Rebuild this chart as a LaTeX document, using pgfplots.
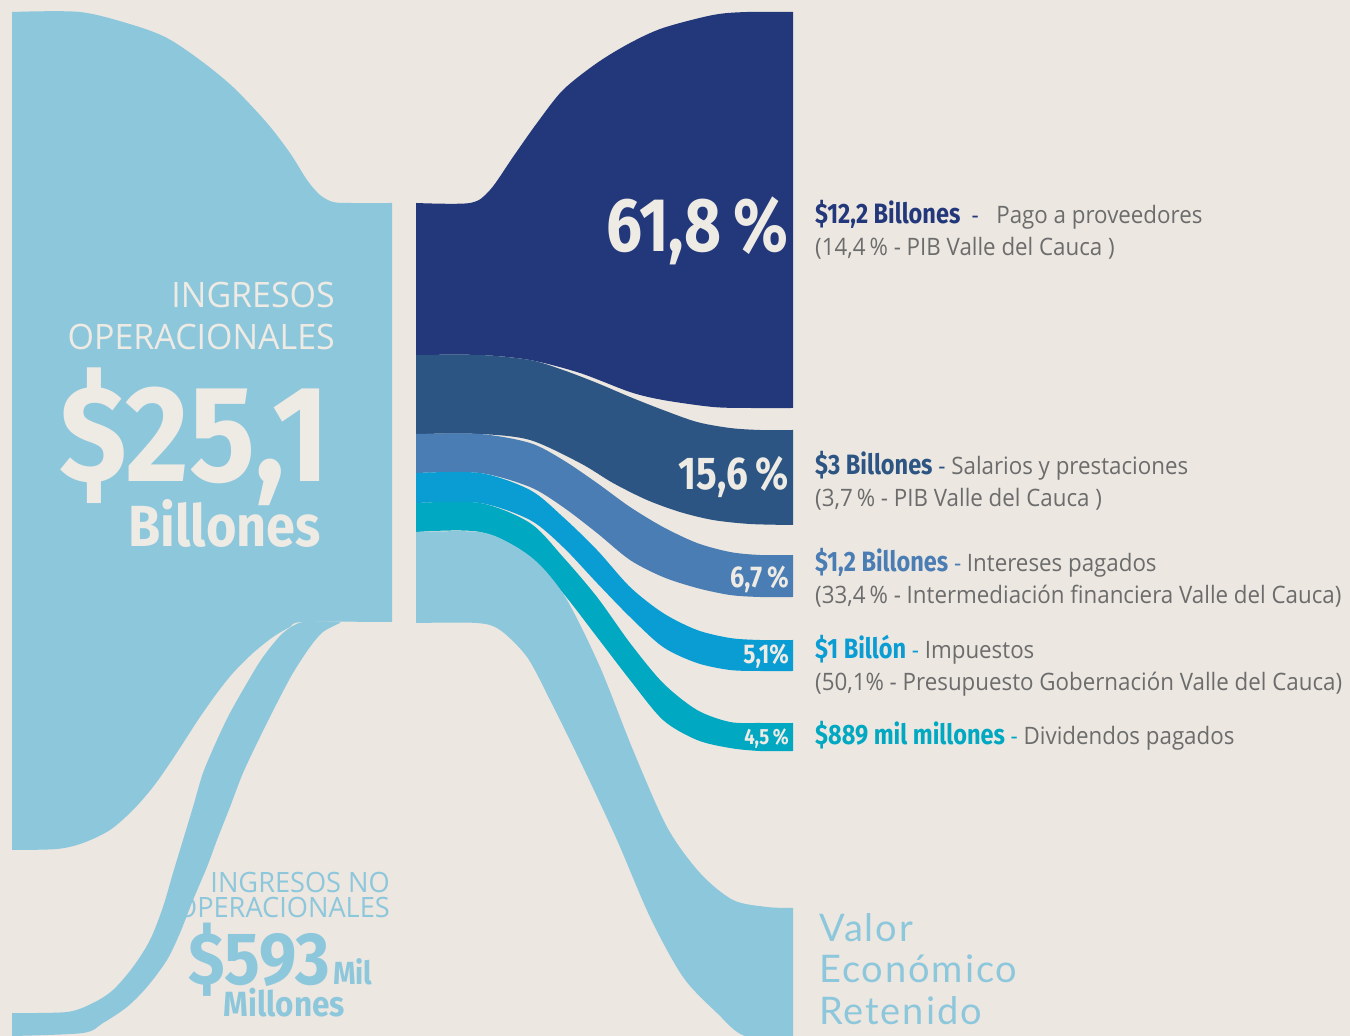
\documentclass[border=0pt]{standalone}
\usepackage{pgfplots}
\pgfplotsset{compat=1.18}
\usepgfplotslibrary{fillbetween}
\usepackage{fontspec}
\setmainfont{Open Sans}
\newfontfamily\txt[FakeStretch=0.93]{Open Sans}
\newfontfamily\caps[FakeStretch=0.97]{Open Sans}
\newfontfamily\fc[FakeStretch=0.84]{Fira Sans}
\newfontfamily\fb[FakeStretch=0.9]{Fira Sans}
\newfontfamily\lat[LetterSpace=5]{Lato}

\definecolor{bg}{HTML}{ECE7E1}
\definecolor{lb}{HTML}{8DC7DC}
\definecolor{navy}{HTML}{22387A}
\definecolor{slate}{HTML}{2C5583}
\definecolor{midb}{HTML}{4A7DB3}
\definecolor{brb}{HTML}{0A9DD4}
\definecolor{teal}{HTML}{00A8C2}
\definecolor{gry}{HTML}{6C6C6C}
\definecolor{crm}{HTML}{EEEAE4}

\newcommand{\fs}[1]{\fontsize{#1}{#1}\selectfont}
% one label: colour, amount in bold, grey text
\newcommand{\lab}[3]{{\fc\bfseries\fs{28}\color{#1}#2}{\txt\fs{24}\color{#1}\ -\ }{\txt\fs{24}\color{gry}#3}}

\begin{document}
\begin{tikzpicture}
\begin{axis}[hide axis, scale only axis, width=1350pt, height=1036pt,
  xmin=0, xmax=1350, ymin=0, ymax=1036, y dir=reverse, set layers]
\begin{pgfonlayer}{axis background}
\fill[bg] (axis cs:0,0) rectangle (axis cs:1350,1036);
\end{pgfonlayer}

% ingresos operacionales (left block)
\addplot[draw=none, smooth, name path=a1] coordinates {(12,12)(80,12)(133,25)(167,38)(200,60)(233,87)(267,123)(290,153)(307,180)(320,195)(333,202)(350,203)(392,203)};
\addplot[draw=none, smooth, name path=a2] coordinates {(12,850)(57,849)(83,843)(110,830)(133,810)(153,787)(170,763)(187,737)(200,717)(217,693)(233,673)(253,653)(273,637)(290,627)(303,622)(392,622)};
\addplot[fill=lb, draw=none] fill between[of=a1 and a2];

% ingresos no operacionales (thin band)
\addplot[draw=none, smooth, name path=t1] coordinates {(12,1013)(67,1012)(93,1003)(113,990)(133,967)(150,940)(163,907)(173,873)(183,840)(193,807)(203,773)(217,740)(230,713)(247,683)(263,657)(283,633)(303,622)(340,622)};
\addplot[draw=none, smooth, name path=t2] coordinates {(12,1036)(83,1033)(103,1023)(127,1007)(147,987)(167,960)(180,933)(193,900)(207,867)(217,840)(230,807)(243,773)(260,737)(277,703)(293,673)(310,647)(323,632)(340,623)};
\addplot[fill=lb, draw=none] fill between[of=t1 and t2];

% pago a proveedores
\addplot[draw=none, smooth, name path=n1] coordinates {(416,203)(470,203)(490,190)(513,157)(537,123)(563,90)(597,63)(630,43)(663,28)(713,15)(747,12)(793,12)};
\addplot[draw=none, smooth, name path=n2] coordinates {(416,355)(480,355)(530,360)(580,373)(630,392)(663,400)(713,407)(750,408)(793,408)};
\addplot[fill=navy, draw=none] fill between[of=n1 and n2];

% salarios
\addplot[draw=none, smooth, name path=s1] coordinates {(416,355)(480,355)(530,360)(563,370)(597,383)(630,397)(663,410)(697,422)(730,428)(760,430)(793,430)};
\addplot[draw=none, smooth, name path=s2] coordinates {(416,434)(480,434)(530,440)(580,463)(613,483)(647,500)(680,512)(713,520)(750,524)(793,525)};
\addplot[fill=slate, draw=none] fill between[of=s1 and s2];

% intereses
\addplot[draw=none, smooth, name path=m1] coordinates {(416,434)(480,434)(530,443)(563,460)(597,483)(630,507)(663,527)(697,543)(730,552)(760,555)(793,555)};
\addplot[draw=none, smooth, name path=m2] coordinates {(416,473)(480,473)(530,487)(563,507)(597,533)(630,560)(663,577)(697,588)(730,595)(760,597)(793,597)};
\addplot[fill=midb, draw=none] fill between[of=m1 and m2];

% impuestos
\addplot[draw=none, smooth, name path=b1] coordinates {(416,473)(480,473)(530,490)(563,517)(597,550)(630,587)(663,613)(697,630)(730,638)(760,640)(793,640)};
\addplot[draw=none, smooth, name path=b2] coordinates {(416,503)(480,503)(530,520)(563,547)(597,583)(630,617)(663,647)(697,663)(730,670)(760,671)(793,671)};
\addplot[fill=brb, draw=none] fill between[of=b1 and b2];

% dividendos
\addplot[draw=none, smooth, name path=c1] coordinates {(416,503)(480,503)(530,523)(563,557)(597,597)(630,643)(663,683)(697,710)(730,722)(760,723)(793,723)};
\addplot[draw=none, smooth, name path=c2] coordinates {(416,532)(480,532)(530,557)(563,593)(597,637)(630,680)(663,720)(697,740)(730,748)(760,751)(793,751)};
\addplot[fill=teal, draw=none] fill between[of=c1 and c2];

% valor economico retenido
\addplot[draw=none, smooth, name path=l1] coordinates {(416,532)(480,532)(513,545)(540,565)(567,600)(600,667)(633,750)(667,827)(700,873)(733,900)(767,907)(793,908)};
\addplot[draw=none, smooth, name path=l2] coordinates {(416,623)(477,623)(500,630)(527,657)(550,700)(583,767)(617,840)(650,917)(683,977)(717,1013)(745,1036)(793,1036)};
\addplot[fill=lb, draw=none] fill between[of=l1 and l2];

% texts on the left
\node[anchor=base east, inner sep=0, text=crm, font=\caps\fs{35}] at (axis cs:335,308) {INGRESOS};
\node[anchor=base east, inner sep=0, text=crm, font=\caps\fs{35}] at (axis cs:335,350) {OPERACIONALES};
\node[anchor=base east, inner sep=0, text=crm, font=\fb\bfseries\fs{137}] at (axis cs:330,482) {\$25,1};
\node[anchor=base east, inner sep=0, text=crm, font=\fb\bfseries\fs{58}] at (axis cs:321,547) {Billones};

\node[anchor=base east, inner sep=0, text=lb, font=\caps\fs{28}] at (axis cs:390,893) {INGRESOS NO};
\node[anchor=base east, inner sep=0, text=lb, font=\caps\fs{28}] at (axis cs:390,918) {OPERACIONALES};
\node[anchor=base west, inner sep=0, text=lb, font=\fb\bfseries] at (axis cs:188,985) {{\fs{74}\$593}\hspace{3pt}{\fs{32}Mil}};
\node[anchor=base east, inner sep=0, text=lb, font=\fb\bfseries\fs{35}] at (axis cs:345,1017) {Millones};

% percentages
\node[anchor=base east, inner sep=0, text=crm, font=\fc\bfseries\fs{76}] at (axis cs:789,252) {61,8\,\%};
\node[anchor=base east, inner sep=0, text=crm, font=\fc\bfseries\fs{46}] at (axis cs:789,490) {15,6\,\%};
\node[anchor=base east, inner sep=0, text=crm, font=\fc\bfseries\fs{30}] at (axis cs:789,588) {6,7\,\%};
\node[anchor=base east, inner sep=0, text=crm, font=\fc\bfseries\fs{27}] at (axis cs:789,664) {5,1\%};
\node[anchor=base east, inner sep=0, text=crm, font=\fc\bfseries\fs{22}] at (axis cs:789,745) {4,5\,\%};

% labels on the right
\node[anchor=base west, inner sep=0] at (axis cs:815,224) {\lab{navy}{\$12,2 Billones\ }{\ \ Pago a proveedores}};
\node[anchor=base west, inner sep=0, text=gry, font=\txt\fs{24}] at (axis cs:815,256) {(14,4\,\% - PIB Valle del Cauca )};
\node[anchor=base west, inner sep=0] at (axis cs:815,475) {\lab{slate}{\$3 Billones}{Salarios y prestaciones}};
\node[anchor=base west, inner sep=0, text=gry, font=\txt\fs{24}] at (axis cs:815,507) {(3,7\,\% - PIB Valle del Cauca )};
\node[anchor=base west, inner sep=0] at (axis cs:815,572) {\lab{midb}{\$1,2 Billones}{Intereses pagados}};
\node[anchor=base west, inner sep=0, text=gry, font=\txt\fs{24}] at (axis cs:815,604) {(33,4\,\% - Intermediación financiera Valle del Cauca)};
\node[anchor=base west, inner sep=0] at (axis cs:815,659) {\lab{brb}{\$1 Billón}{Impuestos}};
\node[anchor=base west, inner sep=0, text=gry, font=\txt\fs{24}] at (axis cs:815,691) {(50,1\% - Presupuesto Gobernación Valle del Cauca)};
\node[anchor=base west, inner sep=0] at (axis cs:815,745) {\lab{teal}{\$889 mil millones}{Dividendos pagados}};

\node[anchor=base west, inner sep=0, text=lb, font=\lat\fs{38}] at (axis cs:819,942) {Valor};
\node[anchor=base west, inner sep=0, text=lb, font=\lat\fs{38}] at (axis cs:819,983) {Económico};
\node[anchor=base west, inner sep=0, text=lb, font=\lat\fs{38}] at (axis cs:819,1025) {Retenido};
\end{axis}
\end{tikzpicture}
\end{document}
